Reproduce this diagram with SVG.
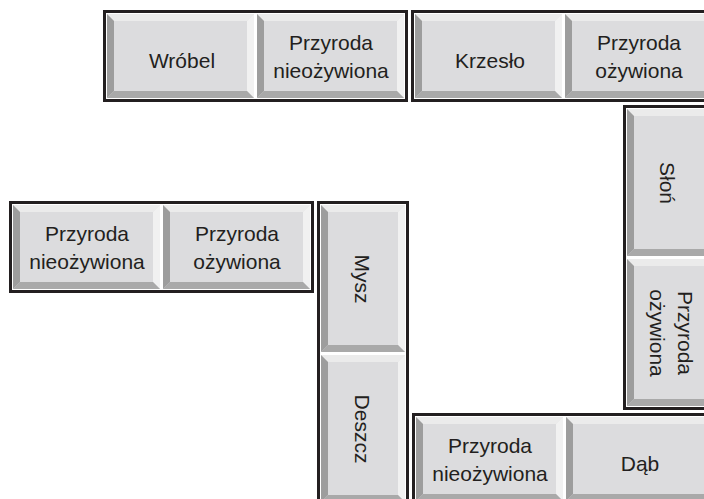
<svg xmlns="http://www.w3.org/2000/svg" xmlns:xlink="http://www.w3.org/1999/xlink" width="704" height="499" viewBox="0 0 704 499">
<style>
.frame{fill:#ffffff;stroke:#231f20;stroke-width:3}
.t{font-family:"Liberation Sans",Arial,sans-serif;font-size:21px;fill:#231f20;text-anchor:middle}
.face{fill:#dcdcde}
.bt{fill:#ebebeb}
.br{fill:#f1f1f1}
.bb{fill:#a9a9a9}
.bl{fill:#9d9d9d}
</style>
<defs>
<g id="ht">
<rect class="face" width="147" height="84"/>
<polygon class="bt" points="0,0 147,0 140,7 7,7"/>
<polygon class="br" points="147,0 147,84 140,77 140,7"/>
<polygon class="bb" points="0,84 7,77 140,77 147,84"/>
<polygon class="bl" points="0,0 7,7 7,77 0,84"/>
</g>
<g id="vt">
<rect class="face" width="84" height="147"/>
<polygon class="bt" points="0,0 84,0 77,7 7,7"/>
<polygon class="br" points="84,0 84,147 77,140 77,7"/>
<polygon class="bb" points="0,147 7,140 77,140 84,147"/>
<polygon class="bl" points="0,0 7,7 7,140 0,147"/>
</g>
</defs>
<g id="connectors"></g>
<g id="d1" transform="translate(103,10)">
<rect class="frame" x="1.5" y="1.5" width="302" height="89"/>
<use xlink:href="#ht" x="4" y="4"/>
<use xlink:href="#ht" x="154" y="4"/>
<text class="t" x="79" y="58">Wróbel</text>
<text class="t" x="228" y="40">Przyroda</text>
<text class="t" x="228" y="68">nieożywiona</text>
</g>
<g id="d2" transform="translate(411,10)">
<rect class="frame" x="1.5" y="1.5" width="302" height="89"/>
<use xlink:href="#ht" x="4" y="4"/>
<use xlink:href="#ht" x="154" y="4"/>
<text class="t" x="79" y="58">Krzesło</text>
<text class="t" x="228" y="40">Przyroda</text>
<text class="t" x="228" y="68">ożywiona</text>
</g>
<g id="d3" transform="translate(9,201)">
<rect class="frame" x="1.5" y="1.5" width="302" height="89"/>
<use xlink:href="#ht" x="4" y="4"/>
<use xlink:href="#ht" x="154" y="4"/>
<text class="t" x="78" y="40">Przyroda</text>
<text class="t" x="78" y="68">nieożywiona</text>
<text class="t" x="228" y="40">Przyroda</text>
<text class="t" x="228" y="68">ożywiona</text>
</g>
<g id="d4" transform="translate(623,105)">
<rect class="frame" x="1.5" y="1.5" width="89" height="302"/>
<use xlink:href="#vt" x="4" y="4"/>
<use xlink:href="#vt" x="4" y="154"/>
<text class="t" transform="translate(37,78) rotate(90)">Słoń</text>
<text class="t" transform="translate(55,228) rotate(90)">Przyroda</text>
<text class="t" transform="translate(27,228) rotate(90)">ożywiona</text>
</g>
<g id="d5" transform="translate(317,201)">
<rect class="frame" x="1.5" y="1.5" width="89" height="302"/>
<use xlink:href="#vt" x="4" y="4"/>
<use xlink:href="#vt" x="4" y="154"/>
<text class="t" transform="translate(38,78) rotate(90)">Mysz</text>
<text class="t" transform="translate(38,228) rotate(90)">Deszcz</text>
</g>
<g id="d6" transform="translate(412,413)">
<rect class="frame" x="1.5" y="1.5" width="302" height="89"/>
<use xlink:href="#ht" x="4" y="4"/>
<use xlink:href="#ht" x="154" y="4"/>
<text class="t" x="78" y="40">Przyroda</text>
<text class="t" x="78" y="68">nieożywiona</text>
<text class="t" x="228" y="58">Dąb</text>
</g>
</svg>
